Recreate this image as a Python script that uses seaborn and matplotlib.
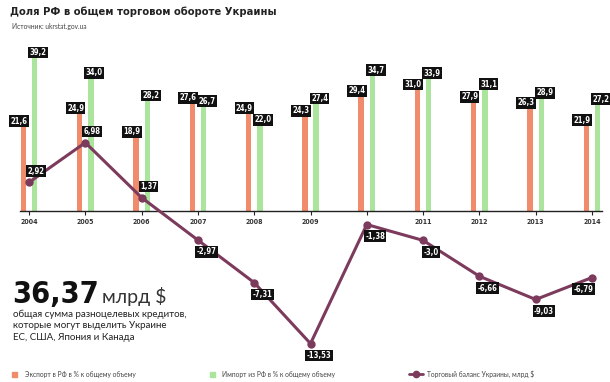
import pandas as pd
import seaborn as sns
import matplotlib.pyplot as plt
from matplotlib.lines import Line2D
from matplotlib.patches import Rectangle

# ---- Données ---- #
years = ["2004", "2005", "2006", "2007", "2008", "2009", "2010", "2011", "2012", "2013", "2014"]
year_labels = ["2004", "2005", "2006", "2007", "2008", "2009", "", "2011", "2012", "2013", "2014"]
export_share = [21.6, 24.9, 18.9, 27.6, 24.9, 24.3, 29.4, 31.0, 27.9, 26.3, 21.9]
import_share = [39.2, 34.0, 28.2, 26.7, 22.0, 27.4, 34.7, 33.9, 31.1, 28.9, 27.2]
balance = [2.92, 6.98, 1.37, -2.97, -7.31, -13.53, -1.38, -3.0, -6.66, -9.03, -6.79]
balance_labels = ["2,92", "6,98", "1,37", "-2,97", "-7,31", "-13,53", "-1,38", "-3,0", "-6,66", "-9,03", "-6,79"]
series_names = ["Экспорт в РФ в % к общему объему", "Импорт из РФ в % к общему объему"]
line_name = "Торговый баланс Украины, млрд $"

c_exp = "#f08b6b"
c_imp = "#aae49d"
c_line = "#7c3a5c"
cond = dict(family="DejaVu Sans", fontstretch="condensed")

df = pd.DataFrame({
    "year": years * 2,
    "value": export_share + import_share,
    "series": [series_names[0]] * len(years) + [series_names[1]] * len(years),
})

sns.set_theme(style="white")
plt.rcParams["font.family"] = ["Lato", "DejaVu Sans"]

W, H = 610, 382
fig = plt.figure(figsize=(W / 100, H / 100), dpi=100)
fig.patch.set_facecolor("white")

# ---- Barres (axe principal, ligne de base à y=211 px) ---- #
px = 56.3
x0 = 29
ax = fig.add_axes([20 / W, (H - 211) / H, 582 / W, 211 / H])
sns.barplot(data=df, x="year", y="value", hue="series", order=years,
            palette=[c_exp, c_imp], width=0.4, gap=0.52, linewidth=0,
            saturation=1, legend=False, ax=ax)
ax.set_xlim((20 - x0) / px, (602 - x0) / px)
ax.set_ylim(0, 211 / 3.9)
ax.set_facecolor("none")
for s in ["top", "right", "left"]:
    ax.spines[s].set_visible(False)
ax.spines["bottom"].set_color("#222222")
ax.spines["bottom"].set_linewidth(1.0)
ax.set_yticks([])
ax.set_xticks(range(len(years)))
ax.set_xticklabels(year_labels, fontsize=5, fontweight="bold", color="#333333", **cond)
ax.tick_params(axis="x", length=3, width=0.8, color="#222222", pad=3, bottom=True)
ax.set_xlabel("")
ax.set_ylabel("")

box = dict(boxstyle="square,pad=0.18", fc="#111111", ec="none")
lab_kw = dict(textcoords="offset points", ha="center", va="center", fontsize=5.5,
              fontweight="bold", color="white", bbox=box, **cond)
for i, v in enumerate(export_share):
    ax.annotate(f"{v:.1f}".replace(".", ","), (i - 0.1, v), xytext=(-3, 4), **lab_kw)
for i, v in enumerate(import_share):
    ax.annotate(f"{v:.1f}".replace(".", ","), (i + 0.1, v), xytext=(2.5, 4), **lab_kw)

# ---- Ligne du solde commercial (axe plein cadre) ---- #
ax2 = fig.add_axes([0, 0, 1, 1])
ax2.set_facecolor("none")
sns.lineplot(x=list(range(len(years))), y=balance, color=c_line, linewidth=2.2,
             marker="o", markersize=6, markeredgewidth=0, ax=ax2)
ax2.set_xlim(-x0 / px, (W - x0) / px)
ax2.set_ylim(-(H - 211) / 9.8, 211 / 9.8)
ax2.axis("off")
for i, (v, lab) in enumerate(zip(balance, balance_labels)):
    if v >= 0:
        off = (5, 8)
    elif i == len(balance) - 1:
        off = (-6, -8.5)
    else:
        off = (6, -8.5)
    ax2.annotate(lab, (i, v), xytext=off, **lab_kw)

# ---- Textes ---- #
fig.text(10 / W, 1 - 12 / H, "Доля РФ в общем торговом обороте Украины", fontsize=8,
         fontweight="bold", color="#222222", va="center", **cond)
fig.text(12 / W, 1 - 27 / H, "Источник: ukrstat.gov.ua", fontsize=4.8, color="#444444", va="center")

big = fig.text(12 / W, 1 - 303 / H, "36,37", fontsize=22, fontweight="bold", color="#111111",
               va="baseline", **cond)
fig.canvas.draw()
bb = big.get_window_extent().transformed(fig.transFigure.inverted())
fig.text(bb.x1 + 3 / W, 1 - 303 / H, "млрд $", fontsize=14, color="#333333", va="baseline")
for k, line in enumerate(["общая сумма разноцелевых кредитов,",
                          "которые могут выделить Украине",
                          "ЕС, США, Япония и Канада"]):
    fig.text(13 / W, 1 - (314 + 12 * k) / H, line, fontsize=7, color="#222222", va="center")

# ---- Légende ---- #
ly = 1 - 374 / H
fig.patches.append(Rectangle((12 / W, ly - 2.5 / H), 5 / W, 5 / H, color=c_exp,
                             transform=fig.transFigure, figure=fig))
fig.text(25 / W, ly, series_names[0], fontsize=4.8, color="#444444", va="center")
fig.patches.append(Rectangle((210 / W, ly - 2.5 / H), 5 / W, 5 / H, color=c_imp,
                             transform=fig.transFigure, figure=fig))
fig.text(222 / W, ly, series_names[1], fontsize=4.8, color="#444444", va="center")
fig.lines.append(Line2D([409 / W, 423 / W], [ly, ly], color=c_line, linewidth=2,
                        transform=fig.transFigure))
fig.lines.append(Line2D([416 / W], [ly], color=c_line, marker="o", markersize=4.5,
                        linewidth=0, transform=fig.transFigure))
fig.text(427 / W, ly, line_name, fontsize=4.8, color="#444444", va="center")

fig.savefig("out.png", dpi=100, facecolor="white")
